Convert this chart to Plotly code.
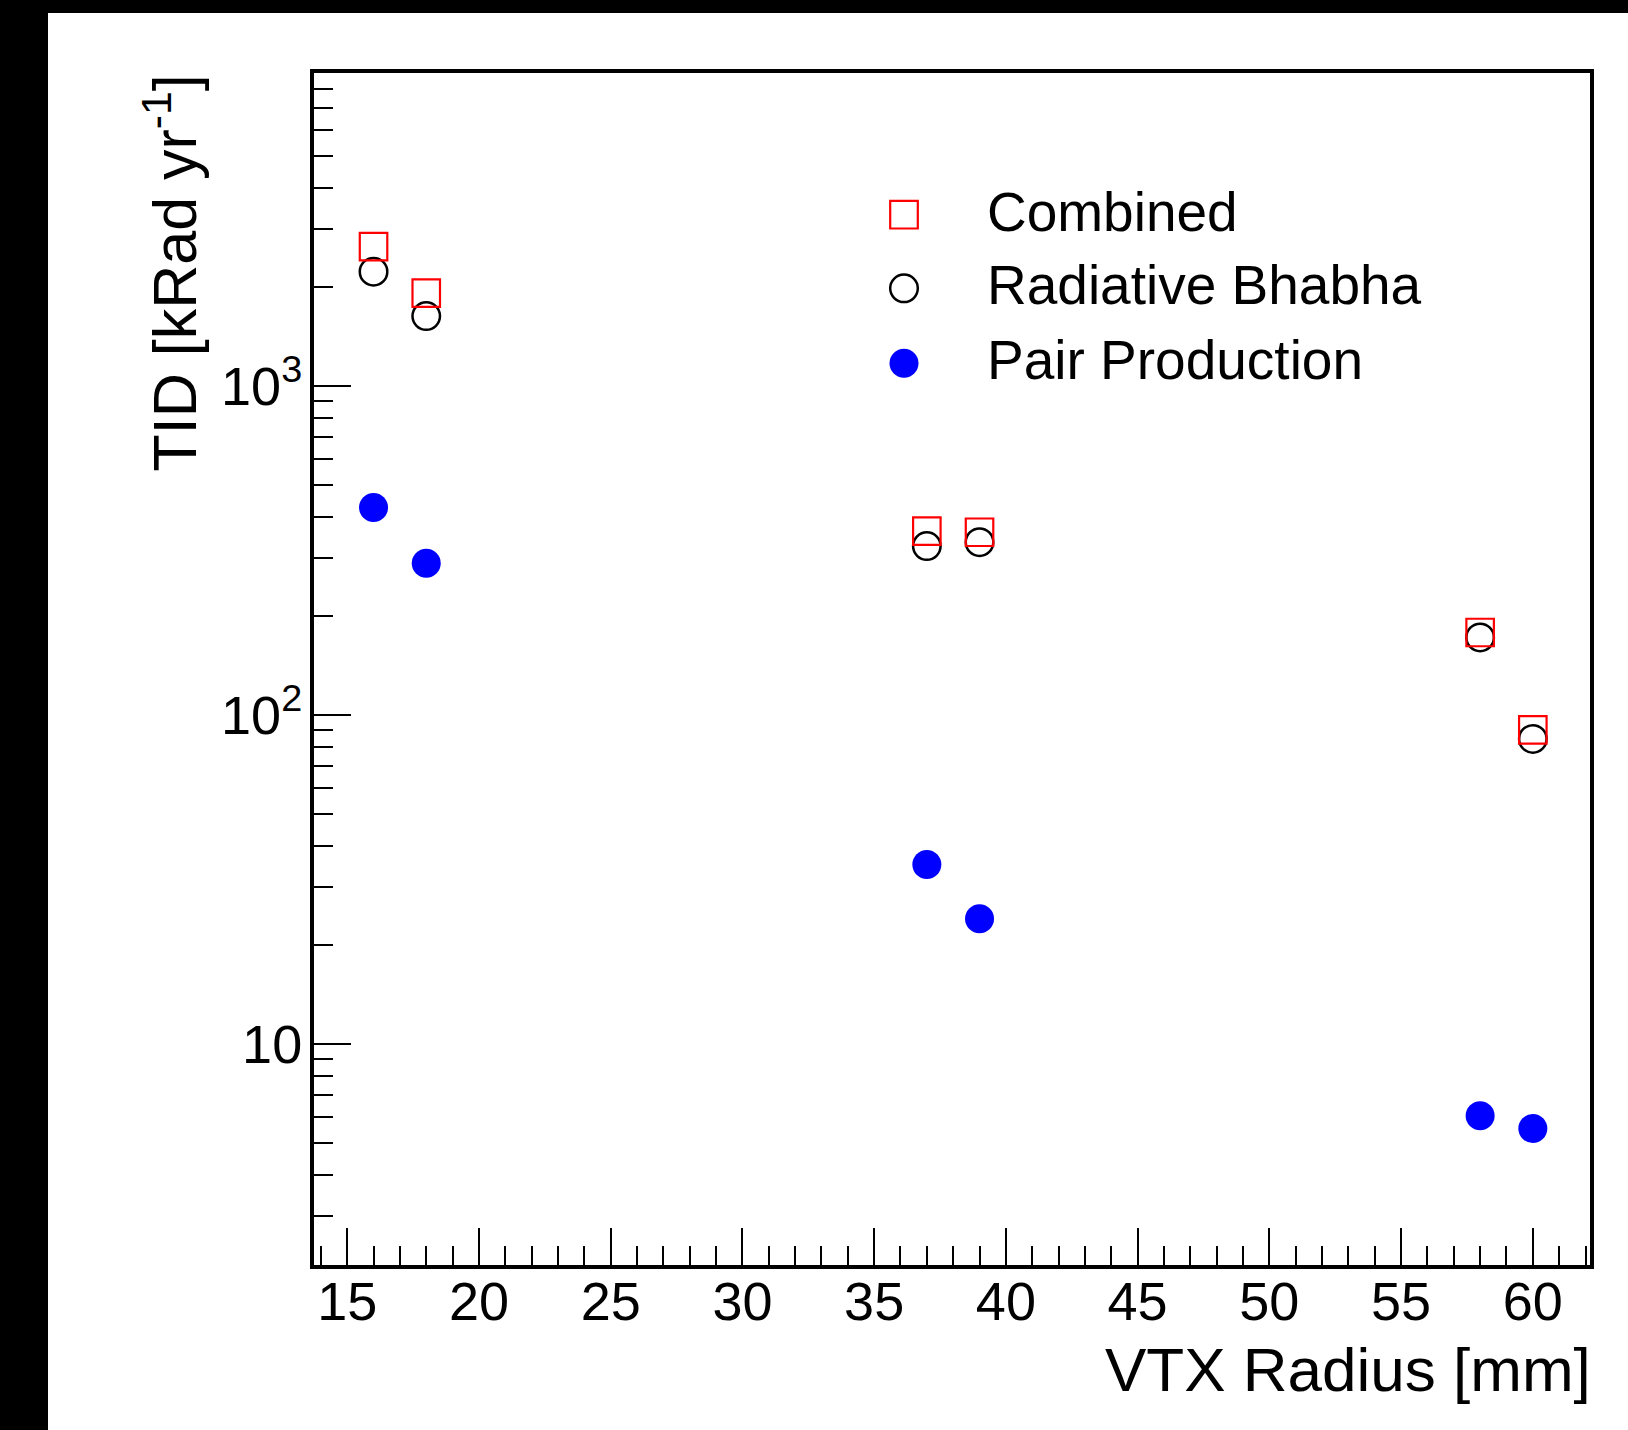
import plotly.graph_objects as go

# ---------------- data ----------------
radius_mm = [16, 18, 37, 39, 58, 60]
tid_combined = [2650, 1915, 362, 359, 178, 90]
tid_rad_bhabha = [2224, 1630, 326, 335, 172, 84.5]
tid_pair_prod = [427, 289, 35.1, 24.0, 6.05, 5.53]

series_names = ["Combined", "Radiative Bhabha", "Pair Production"]

x_major_ticks = [15, 20, 25, 30, 35, 40, 45, 50, 55, 60]
x_minor_ticks = list(range(14, 63))
y_major_ticks = [10, 100, 1000]
y_major_text = ["10", "10<sup>2</sup>", "10<sup>3</sup>"]
y_minor_ticks = [3, 4, 5, 6, 7, 8, 9,
                 20, 30, 40, 50, 60, 70, 80, 90,
                 200, 300, 400, 500, 600, 700, 800, 900,
                 2000, 3000, 4000, 5000, 6000, 7000, 8000, 9000]

x_title = "VTX Radius [mm]"
y_title = "TID [kRad yr<sup>-1</sup>]"

# ---------------- layout geometry ----------------
W, H = 1628, 1430
L, R, T, B = 314, 38, 73, 165
PW, PH = W - L - R, H - T - B
FONT = "Liberation Sans, Arial, Helvetica, sans-serif"


def px_x(px):
    return (px - L) / PW


def px_y(py):
    return (H - B - py) / PH


fig = go.Figure()

# draw order: pair production, radiative bhabha, combined on top
fig.add_trace(go.Scatter(
    x=radius_mm, y=tid_pair_prod, mode="markers", name=series_names[2],
    marker=dict(symbol="circle", size=29, color="#0000ff", line=dict(width=0)),
    showlegend=False))
fig.add_trace(go.Scatter(
    x=radius_mm, y=tid_rad_bhabha, mode="markers", name=series_names[1],
    marker=dict(symbol="circle-open", size=27.5, color="black",
                line=dict(width=2.5, color="black")),
    showlegend=False))
fig.add_trace(go.Scatter(
    x=radius_mm, y=tid_combined, mode="markers", name=series_names[0],
    marker=dict(symbol="square-open", size=27.5, color="#ff0000",
                line=dict(width=2.2, color="#ff0000")),
    showlegend=False))

shapes = [
    # black bands of the original canvas
    dict(type="rect", xref="paper", yref="paper", x0=-0.3, x1=px_x(48),
         y0=-0.3, y1=1.3, fillcolor="black", line=dict(width=0), layer="above"),
    dict(type="rect", xref="paper", yref="paper", x0=-0.3, x1=1.1,
         y0=px_y(13), y1=1.3, fillcolor="black", line=dict(width=0), layer="above"),
]

# custom legend
leg_x = px_x(904)
leg_rows = [214.7, 288.3, 363.3]
shapes.append(dict(type="rect", xref="paper", yref="paper",
                   xsizemode="pixel", ysizemode="pixel",
                   xanchor=leg_x, yanchor=px_y(leg_rows[0]),
                   x0=-13.8, x1=13.8, y0=-13.8, y1=13.8,
                   line=dict(color="#ff0000", width=2.2)))
shapes.append(dict(type="circle", xref="paper", yref="paper",
                   xsizemode="pixel", ysizemode="pixel",
                   xanchor=leg_x, yanchor=px_y(leg_rows[1]),
                   x0=-13.8, x1=13.8, y0=-13.8, y1=13.8,
                   line=dict(color="black", width=2.5)))
shapes.append(dict(type="circle", xref="paper", yref="paper",
                   xsizemode="pixel", ysizemode="pixel",
                   xanchor=leg_x, yanchor=px_y(leg_rows[2]),
                   x0=-14.5, x1=14.5, y0=-14.5, y1=14.5,
                   fillcolor="#0000ff", line=dict(width=0)))

annotations = []
for name, row in zip(series_names, leg_rows):
    annotations.append(dict(
        text=name, xref="paper", yref="paper", x=px_x(985), y=px_y(row - 3),
        xanchor="left", yanchor="middle", showarrow=False,
        font=dict(family=FONT, size=55, color="black")))

annotations.append(dict(
    text=x_title, xref="paper", yref="paper", x=1, y=0,
    xanchor="right", yanchor="top", yshift=-68, xshift=3, showarrow=False,
    font=dict(family=FONT, size=62, color="black")))
annotations.append(dict(
    text=y_title, xref="paper", yref="paper", x=0, y=1,
    xanchor="center", yanchor="top", xshift=170 - L, textangle=-90,
    showarrow=False, font=dict(family=FONT, size=61, color="black")))

axis_common = dict(
    showline=True, linewidth=4, linecolor="black", mirror=True,
    showgrid=False, zeroline=False,
    ticks="inside", ticklen=37, tickwidth=2, tickcolor="black",
    tickfont=dict(family=FONT, size=54, color="black"),
)

fig.update_layout(
    width=W, height=H,
    margin=dict(l=L, r=R, t=T, b=B, pad=0),
    paper_bgcolor="white", plot_bgcolor="white",
    showlegend=False,
    shapes=shapes, annotations=annotations,
    xaxis=dict(
        range=[13.74, 62.17], tickmode="array", tickvals=x_major_ticks,
        ticklabelstandoff=-14,
        minor=dict(tickmode="array", tickvals=x_minor_ticks, ticks="inside",
                   ticklen=19, tickwidth=2, tickcolor="black"),
        **axis_common),
    yaxis=dict(
        type="log", range=[0.328, 3.951], tickmode="array",
        tickvals=y_major_ticks, ticktext=y_major_text,
        ticklabelstandoff=-3,
        minor=dict(tickmode="array", tickvals=y_minor_ticks, ticks="inside",
                   ticklen=19, tickwidth=2, tickcolor="black"),
        **axis_common),
)

fig.write_html("out.html")
